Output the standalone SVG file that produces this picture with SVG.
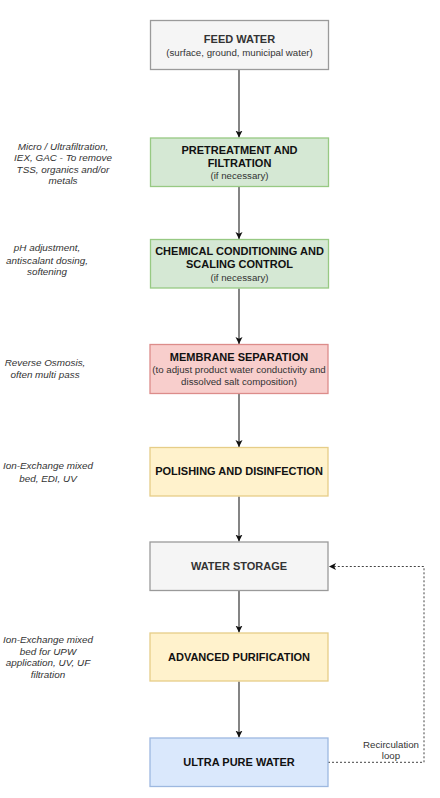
<svg xmlns="http://www.w3.org/2000/svg" width="440" height="798" viewBox="0 0 440 798">
<defs>
<style>
.box{stroke-width:1.3}
.gray{fill:#f5f5f5;stroke:#9a9a9a}
.green{fill:#d5e8d4;stroke:#97c983}
.red{fill:#f8cecc;stroke:#dc8c8a}
.yellow{fill:#fff2cc;stroke:#e6cd88}
.blue{fill:#dae8fc;stroke:#9db8e0}
.t{font-family:"Liberation Sans",Arial,sans-serif;font-size:11px;font-weight:bold;text-anchor:middle;fill:#111}
.tg{fill:#333}
.s{font-family:"Liberation Sans",Arial,sans-serif;font-size:9.7px;text-anchor:middle;fill:#333}
.n{font-family:"Liberation Sans",Arial,sans-serif;font-size:9.9px;font-style:italic;text-anchor:middle;fill:#333}
.e{stroke:#333;stroke-width:1.2;fill:none}
.d{stroke:#444;stroke-width:1;fill:none;stroke-dasharray:2,2}
</style>
<marker id="ah" markerWidth="8" markerHeight="8" refX="7" refY="4" orient="auto" markerUnits="userSpaceOnUse">
<path d="M0,0.5 L7,4 L0,7.5 L1.8,4 Z" fill="#111"/>
</marker>
</defs>
<rect width="440" height="798" fill="#fff"/>

<g id="connectors">
<line class="e" x1="239" y1="69.5" x2="239" y2="137.5" marker-end="url(#ah)"/>
<line class="e" x1="239" y1="186.5" x2="239" y2="239" marker-end="url(#ah)"/>
<line class="e" x1="239" y1="288.5" x2="239" y2="344" marker-end="url(#ah)"/>
<line class="e" x1="239" y1="393.5" x2="239" y2="447" marker-end="url(#ah)"/>
<line class="e" x1="239" y1="496.5" x2="239" y2="541.5" marker-end="url(#ah)"/>
<line class="e" x1="239" y1="590.5" x2="239" y2="632.5" marker-end="url(#ah)"/>
<line class="e" x1="239" y1="681.5" x2="239" y2="737.5" marker-end="url(#ah)"/>
<path class="d" d="M328,762.3 H424 V566.5 H329" marker-end="url(#ah)"/>
<text class="s"><tspan x="391" y="747.5">Recirculation</tspan><tspan x="391" y="759.2">loop</tspan></text>
</g>

<g id="feed">
<rect class="box gray" x="150.5" y="20.5" width="178" height="49"/>
<text class="t tg" x="239.5" y="43.3">FEED WATER</text>
<text class="s" x="239.5" y="56">(surface, ground, municipal water)</text>
</g>

<g id="pretreatment">
<rect class="box green" x="150.5" y="138" width="178" height="48.5"/>
<text class="t" x="239.5" y="154"><tspan x="239.5">PRETREATMENT AND</tspan><tspan x="239.5" y="167.3">FILTRATION</tspan></text>
<text class="s" x="239.5" y="179">(if necessary)</text>
</g>

<g id="note-pretreatment">
<text class="n"><tspan x="63" y="149.5">Micro / Ultrafiltration,</tspan><tspan x="63" y="161">IEX, GAC - To remove</tspan><tspan x="63" y="172.7">TSS, organics and/or</tspan><tspan x="63" y="184.3">metals</tspan></text>
</g>

<g id="chemical">
<rect class="box green" x="150.5" y="239.5" width="178" height="48.5"/>
<text class="t"><tspan x="239.5" y="255.3">CHEMICAL CONDITIONING AND</tspan><tspan x="239.5" y="268">SCALING CONTROL</tspan></text>
<text class="s" x="239.5" y="280.6">(if necessary)</text>
</g>

<g id="note-chemical">
<text class="n"><tspan x="47" y="251.2">pH adjustment,</tspan><tspan x="47" y="263.5">antiscalant dosing,</tspan><tspan x="47" y="274.5">softening</tspan></text>
</g>

<g id="membrane">
<rect class="box red" x="150" y="344.5" width="178" height="49"/>
<text class="t" x="239" y="360.7">MEMBRANE SEPARATION</text>
<text class="s"><tspan x="239" y="373.4">(to adjust product water conductivity and</tspan><tspan x="239" y="384.6">dissolved salt composition)</tspan></text>
</g>

<g id="note-membrane">
<text class="n"><tspan x="45" y="366.2">Reverse Osmosis,</tspan><tspan x="45" y="377.8">often multi pass</tspan></text>
</g>

<g id="polishing">
<rect class="box yellow" x="150" y="447.5" width="178" height="48.5"/>
<text class="t" x="239" y="475.3">POLISHING AND DISINFECTION</text>
</g>

<g id="note-polishing">
<text class="n"><tspan x="48" y="469.2">Ion-Exchange mixed</tspan><tspan x="48" y="481.5">bed, EDI, UV</tspan></text>
</g>

<g id="storage">
<rect class="box gray" x="150" y="542" width="178" height="48.5"/>
<text class="t tg" x="239" y="569.7">WATER STORAGE</text>
</g>

<g id="advanced">
<rect class="box yellow" x="150" y="633" width="178" height="48"/>
<text class="t" x="239" y="660.7">ADVANCED PURIFICATION</text>
</g>

<g id="note-advanced">
<text class="n"><tspan x="48" y="642.8">Ion-Exchange mixed</tspan><tspan x="48" y="654.5">bed for UPW</tspan><tspan x="48" y="666.2">application, UV, UF</tspan><tspan x="48" y="677.8">filtration</tspan></text>
</g>

<g id="upw">
<rect class="box blue" x="150" y="738" width="178" height="48.5"/>
<text class="t" x="239" y="766">ULTRA PURE WATER</text>
</g>
</svg>
